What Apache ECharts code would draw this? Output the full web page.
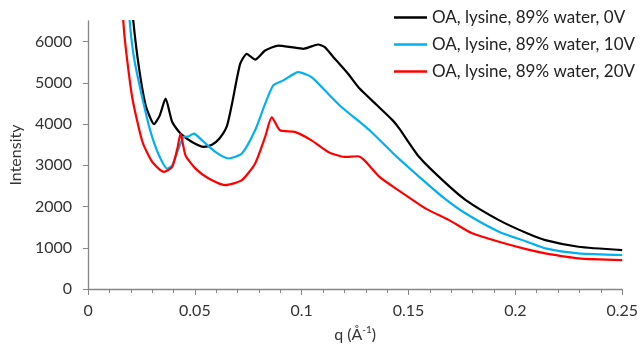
<!DOCTYPE html>
<html>
<head>
<meta charset="utf-8">
<script src="https://cdn.jsdelivr.net/npm/echarts@6/dist/echarts.min.js"></script>
<style>
  html, body {margin: 0; padding: 0; background: #fff;}
  #main {width: 641px; height: 348px;}
</style>
</head>
<body>
<div id="main"></div>
<script>
// values (q in 1/Å, intensity)
const seriesNames = ['OA, lysine, 89% water, 0V', 'OA, lysine, 89% water, 10V', 'OA, lysine, 89% water, 20V'];
const colors = ['#000000', '#00b0f0', '#ff0000'];

const q0V = [0.0188, 0.021, 0.0237, 0.027, 0.0309, 0.0335, 0.0363, 0.0394, 0.0433, 0.0487, 0.0541, 0.058, 0.0615, 0.065, 0.0674, 0.0712, 0.0743, 0.0782, 0.0829, 0.0891, 0.0953, 0.1007, 0.1077, 0.1108, 0.1155, 0.1217, 0.1271, 0.135, 0.1426, 0.1457, 0.155, 0.1659, 0.1768, 0.1923, 0.2055, 0.214, 0.2295, 0.25];
const i0V = [8000, 6600, 5420, 4450, 4000, 4200, 4615, 4050, 3770, 3565, 3445, 3500, 3650, 3950, 4495, 5460, 5705, 5565, 5785, 5905, 5865, 5825, 5930, 5865, 5585, 5220, 4860, 4470, 4090, 3890, 3200, 2640, 2155, 1670, 1350, 1185, 1025, 945];

const q10V = [0.0178, 0.0195, 0.0216, 0.0255, 0.0293, 0.0332, 0.0371, 0.0394, 0.0418, 0.0448, 0.047, 0.0495, 0.0534, 0.0596, 0.0658, 0.072, 0.0782, 0.0829, 0.0867, 0.0914, 0.0984, 0.1046, 0.1108, 0.1186, 0.1263, 0.1318, 0.1426, 0.1457, 0.155, 0.1659, 0.1768, 0.1923, 0.2055, 0.214, 0.2295, 0.25];
const i10V = [8000, 6500, 5585, 4615, 3810, 3245, 2920, 3000, 3325, 3690, 3700, 3770, 3605, 3325, 3165, 3285, 3850, 4495, 4940, 5060, 5260, 5140, 4820, 4415, 4090, 3850, 3300, 3150, 2720, 2235, 1830, 1390, 1145, 985, 865, 825];

const q20V = [0.015, 0.0165, 0.0177, 0.0208, 0.0255, 0.0301, 0.0355, 0.0394, 0.0418, 0.0433, 0.0456, 0.0503, 0.0565, 0.0642, 0.072, 0.0782, 0.0829, 0.086, 0.0898, 0.0968, 0.1046, 0.1124, 0.1201, 0.1263, 0.1294, 0.1364, 0.1457, 0.1581, 0.169, 0.1798, 0.1923, 0.2055, 0.214, 0.2295, 0.25];
const i20V = [8000, 6500, 5825, 4615, 3565, 3080, 2840, 2960, 3405, 3770, 3245, 2920, 2680, 2520, 2640, 3045, 3690, 4170, 3850, 3810, 3605, 3325, 3205, 3220, 3120, 2720, 2380, 1950, 1670, 1350, 1145, 960, 865, 745, 700];

const yTicks = [0, 1000, 2000, 3000, 4000, 5000, 6000];

const zip = (xs, ys) => xs.map((x, k) => [x, ys[k]]);
const allData = [zip(q0V, i0V), zip(q10V, i10V), zip(q20V, i20V)];

const font = 'Lato, "Noto Sans", sans-serif';
const axisGrey = '#868686';

const chart = echarts.init(document.getElementById('main'));
chart.setOption({
  animation: false,
  textStyle: {fontFamily: font},
  grid: {left: 87, right: 17, top: 21, bottom: 59},
  legend: {
    orient: 'vertical',
    right: 1,
    top: 4,
    icon: 'rect',
    itemWidth: 33,
    itemHeight: 2.5,
    itemGap: 10,
    textStyle: {fontSize: 17, color: '#222', fontFamily: font},
    data: seriesNames
  },
  xAxis: {
    type: 'value',
    min: 0,
    max: 0.25,
    interval: 0.05,
    name: '{a|q (Å}{s|-1}{a|)}',
    nameLocation: 'middle',
    nameGap: 36,
    nameTextStyle: {
      rich: {
        a: {fontSize: 16, color: '#333', fontFamily: font, lineHeight: 20},
        s: {fontSize: 10, color: '#333', fontFamily: font, verticalAlign: 'top', lineHeight: 12}
      }
    },
    axisLine: {lineStyle: {color: axisGrey, width: 1.3}},
    axisTick: {length: 6, lineStyle: {color: axisGrey}},
    minorTick: {show: true, splitNumber: 5, length: 4, lineStyle: {color: axisGrey}},
    splitLine: {show: false},
    axisLabel: {fontSize: 16, color: '#333', margin: 14, fontFamily: font}
  },
  yAxis: {
    type: 'value',
    min: 0,
    max: 6500,
    interval: 1000,
    name: 'Intensity',
    nameLocation: 'middle',
    nameGap: 58,
    nameTextStyle: {fontSize: 16, color: '#333', fontFamily: font},
    axisLine: {show: true, lineStyle: {color: axisGrey, width: 1.3}},
    axisTick: {show: true, length: 5, customValues: yTicks, lineStyle: {color: axisGrey}},
    splitLine: {show: false},
    axisLabel: {fontSize: 16, color: '#333', margin: 16, customValues: yTicks, fontFamily: font,
      formatter: v => String(v)}
  },
  series: allData.map((d, k) => ({
    name: seriesNames[k],
    type: 'line',
    data: d,
    symbol: 'none',
    smooth: 0.2,
    clip: true,
    lineStyle: {color: colors[k], width: 2.2},
    itemStyle: {color: colors[k]}
  }))
});
</script>
</body>
</html>
